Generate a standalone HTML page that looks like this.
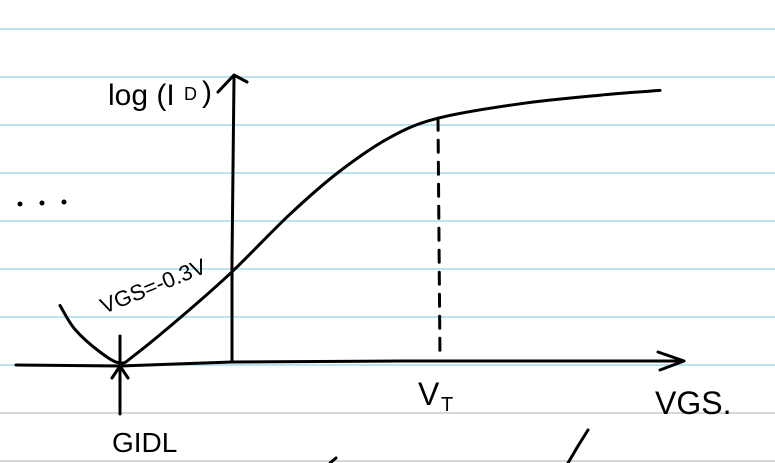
<!DOCTYPE html>
<html><head><meta charset="utf-8"><style>
html,body{margin:0;padding:0;background:#fff;}
svg{display:block;}
text{font-family:"Liberation Sans",sans-serif;}
</style></head><body>
<svg id="chart" width="775" height="463" viewBox="0 0 775 463">
<g id="paper"></g>
<g id="marks"></g>
</svg>
<script>
// Sketch data (arbitrary units): VGS vs log(ID)
const vgs = [-1.15, -1.0, -0.75, -0.55, -0.4, 0.05, 0.57, 1.15, 1.65, 2.15, 2.63, 3.45, 4.25, 4.85];
const logId = [1.2, 0.7, 0.23, 0.0, 0.17, 0.94, 1.9, 3.1, 4.0, 4.7, 5.1, 5.4, 5.58, 5.68];
const lineRows = [29, 77, 125, 173, 221, 269, 317, 365, 413, 461];
const vt = 2.63;

const x = v => 175 + v * 100;
const y = l => 363 - l * 48;
const ns = "http://www.w3.org/2000/svg";
function mk(tag, attrs, parent){const e=document.createElementNS(ns,tag);for(const k in attrs)e.setAttribute(k,attrs[k]);parent.appendChild(e);return e;}
const paper=document.getElementById('paper');
const marks=document.getElementById('marks');
lineRows.forEach((r,i)=>{
  const l=mk('line',{x1:0,x2:775,y1:r,y2:r,stroke:i>=8?'#c8c8c8':'#a6dbe8','stroke-width':1.5},paper);
  
  
});
const S={stroke:'#000',fill:'none','stroke-width':3,'stroke-linecap':'round','stroke-linejoin':'round'};
function path(d,name,extra){const p=mk('path',Object.assign({d:d},S,extra||{}),marks);return p;}
// axes
path('M16 365 L120 366 L232 362 L400 361 L680 361','x-axis');
path('M658 352 L684 361 L660 370','x-axis-arrow');
path('M232 362 L232 260 L234 78','y-axis');
path('M218 92 L234 75 L247 82','y-axis-arrow');
// smooth curve (Catmull-Rom)
const P=vgs.map((v,i)=>[x(v),y(logId[i])]);
let d='M'+P[0][0].toFixed(1)+' '+P[0][1].toFixed(1);
for(let i=0;i<P.length-1;i++){
  const p0=P[Math.max(0,i-1)],p1=P[i],p2=P[i+1],p3=P[Math.min(P.length-1,i+2)];
  const c1=[p1[0]+(p2[0]-p0[0])/6,p1[1]+(p2[1]-p0[1])/6];
  const c2=[p2[0]-(p3[0]-p1[0])/6,p2[1]-(p3[1]-p1[1])/6];
  d+=' C'+c1[0].toFixed(1)+' '+c1[1].toFixed(1)+' '+c2[0].toFixed(1)+' '+c2[1].toFixed(1)+' '+p2[0].toFixed(1)+' '+p2[1].toFixed(1);
}
path(d,'id-curve');
// VT dashed
path('M'+x(vt)+' '+y(5.1)+' L'+(x(vt)+2)+' 360','vt-dashed-line',{'stroke-dasharray':'12 10'});
// GIDL arrow
path('M120 414 L120 336','gidl-arrow');
path('M112 378 L120 366 L128 378','gidl-arrow-head');
// dots
[[20,204],[42,203],[64,202]].forEach(p=>{const c=mk('circle',{cx:p[0],cy:p[1],r:2.5,fill:'#000'},marks);});
// stray strokes at bottom
path('M330 463 L336 458','stray-stroke');
path('M568 463 L578 446 L588 430','stray-stroke');
function txt(s,xx,yy,size,name,rot){const t=mk('text',{x:xx,y:yy,'font-size':size,fill:'#000'},marks);if(rot)t.setAttribute('transform',rot);t.textContent=s;return t;}
txt('log (I',108,105,30,'y-axis-title');
txt('D',184,100,18,'y-axis-subscript');
txt(')',202,102,30,'y-axis-paren');
txt('VGS=-0.3V',104,314,22,'vgs-annotation','rotate(-22 104 314)');
txt('V',418,405,32,'vt-label');
txt('T',441,411,20,'vt-subscript');
txt('VGS.',655,414,32,'x-axis-title');
txt('GIDL',112,452,28,'gidl-label');
</script>
</body></html>
